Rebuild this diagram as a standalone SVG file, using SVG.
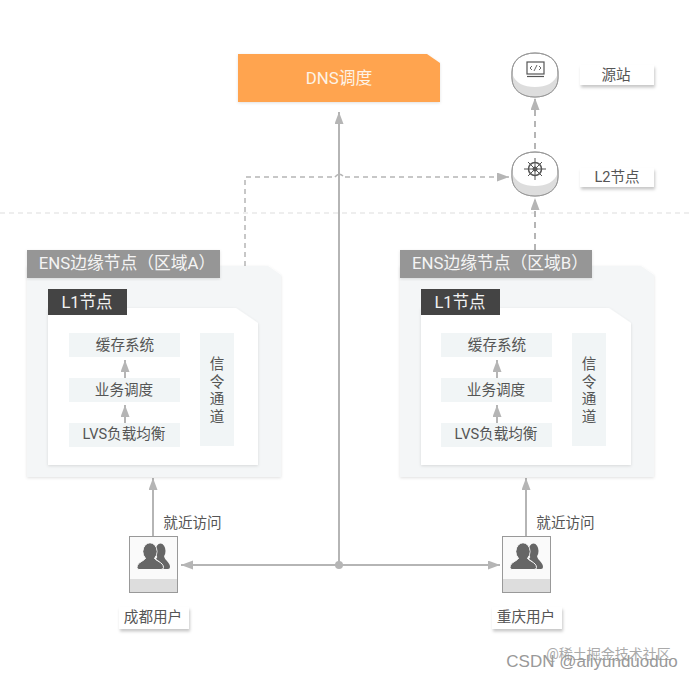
<svg xmlns="http://www.w3.org/2000/svg" width="692" height="680" viewBox="0 0 692 680">
<defs>
<filter id="sh" x="-20%" y="-30%" width="140%" height="170%"><feDropShadow dx="1" dy="2.500" stdDeviation="1.500" flood-color="#000" flood-opacity="0.22"/></filter>
<filter id="sh2" x="-10%" y="-10%" width="120%" height="120%"><feDropShadow dx="0" dy="1" stdDeviation="1.500" flood-color="#000" flood-opacity="0.12"/></filter>
<marker id="ah" markerUnits="userSpaceOnUse" markerWidth="13" markerHeight="10" refX="12" refY="4.500" orient="auto"><path d="M0 0L12 4.500L0 9Z" fill="#b5b5b5"/></marker>
<marker id="ahs" markerUnits="userSpaceOnUse" markerWidth="13" markerHeight="10" refX="12" refY="4.500" orient="auto"><path d="M0 0L12 4.500L0 9Z" fill="#b5b5b5"/></marker>
<g id="users">
<ellipse cx="23.500" cy="8" rx="5" ry="7.500" fill="#666"/>
<path d="M21 13H27C28 18 33 19 33 24Q33 26 31 26H25C25 20 22 18 19 16Z" fill="#666"/>
<ellipse cx="13" cy="8.500" rx="7" ry="8.500" fill="#666" stroke="#fafafa" stroke-width="1"/>
<path d="M0 24.500C0 19 8 18 9.500 14H16.500C18 18 26.500 19 26.500 24.500Q26.500 26.500 24 26.500H2Q0 26.500 0 24.500Z" fill="#666" stroke="#fafafa" stroke-width="1"/>
<ellipse cx="13" cy="8.500" rx="6.500" ry="8" fill="#666"/>
</g>
</defs>
<style>
text{font-family:Roboto,"Noto Sans CJK SC",sans-serif;text-anchor:middle;fill:#555;font-size:14.600px}
.w{fill:#fff}
.hd{font-size:16.800px;fill:#f4f4f4}
.hl{font-size:16.500px;fill:#f2f2f2}
.it{fill:#f1f5f6}
.lb{fill:#fff;filter:url(#sh)}
.ln{stroke:#b5b5b5;stroke-width:2;fill:none}
.ds{stroke:#b5b5b5;stroke-width:2;stroke-dasharray:6 5;fill:none}
.dt{stroke:#b5b5b5;stroke-width:1.500;stroke-dasharray:5 4;fill:none}
.cyl{fill:#fff;stroke:#999;stroke-width:1}
</style>
<path d="M0 213H692" stroke="#ddd" stroke-width="1" stroke-dasharray="5 4" fill="none"/>

<g id="connectors">
<path class="ln" d="M339 565V112" marker-end="url(#ah)"/>
<path class="dt" d="M245 266V177H335"/>
<path d="M335 177Q339 172 343 176" stroke="#b5b5b5" stroke-width="1.500" fill="none"/>
<path class="dt" d="M345 177H509" marker-end="url(#ah)"/>
<path class="ds" d="M535 250V198" marker-end="url(#ah)"/>
<path class="ds" d="M535 149V98" marker-end="url(#ah)"/>
<path class="ln" d="M153 536V478" marker-end="url(#ah)"/>
<path class="ln" d="M526 536V478" marker-end="url(#ah)"/>
<path class="ln" d="M339 565H181" marker-end="url(#ah)"/>
<path class="ln" d="M339 565H500" marker-end="url(#ah)"/>
<circle cx="339" cy="565" r="4" fill="#b5b5b5"/>
</g>

<g id="dns">
<path d="M238 54H427L440 63V102H238Z" fill="#ffa44f" filter="url(#sh2)"/>
<text x="339" y="84" style="fill:#fdf3e6;font-size:16.800px">DNS调度</text>
</g>

<g id="origin">
<path class="cyl" d="M512 72C512 60 522 53 535 53S558 60 558 72V78C558 90 548 97 535 97S512 90 512 78Z"/>
<path d="M512.500 74C515 83 524 87 535 87S555 83 557.500 74V78C557.500 90 548 96.500 535 96.500S512.500 90 512.500 78Z" fill="#ddd"/>
<path class="cyl" style="fill:none" d="M512 72C512 60 522 53 535 53S558 60 558 72V78C558 90 548 97 535 97S512 90 512 78Z"/>
<rect x="527" y="62" width="17" height="12" fill="none" stroke="#555" stroke-width="1.200"/>
<path d="M527 76.500H544" stroke="#555" stroke-width="1.200"/>
<path d="M532 66L530 68L532 70M539 66L541 68L539 70M537 65L534 71" stroke="#555" stroke-width="0.900" fill="none"/>
<rect class="lb" x="580" y="65" width="74" height="20"/>
<text x="616" y="80">源站</text>
</g>

<g id="l2">
<path class="cyl" d="M512 171C512 159 522 152 535 152S558 159 558 171V177C558 189 548 196 535 196S512 189 512 177Z"/>
<path d="M512.500 173C515 182 524 186 535 186S555 182 557.500 173V177C557.500 189 548 195.500 535 195.500S512.500 189 512.500 177Z" fill="#ddd"/>
<path class="cyl" style="fill:none" d="M512 171C512 159 522 152 535 152S558 159 558 171V177C558 189 548 196 535 196S512 189 512 177Z"/>
<circle cx="535" cy="169" r="6.500" fill="none" stroke="#555" stroke-width="1.500"/>
<circle cx="535" cy="169" r="2.500" fill="#555"/>
<path d="M524 169H546M535 158V180M528 162L542 176M542 162L528 176" stroke="#555" stroke-width="1"/>
<rect class="lb" x="580" y="168" width="74" height="19"/>
<text x="617" y="182">L2节点</text>
</g>

<g id="regionA">
<path d="M27 266H268L281 275V477H27Z" fill="#f4f6f7" filter="url(#sh2)"/>
<rect x="27" y="250" width="193" height="28" fill="#969696" filter="url(#sh2)"/>
<text class="hd" x="127" y="269">ENS边缘节点（区域A）</text>
<path d="M48 308H236L258 323V465H48Z" class="w" filter="url(#sh2)"/>
<rect x="48" y="289" width="79" height="26" fill="#444"/>
<text class="hl" x="87" y="308">L1节点</text>
<rect class="it" x="69" y="333" width="111" height="24"/>
<rect class="it" x="69" y="378" width="111" height="24"/>
<rect class="it" x="69" y="423" width="111" height="24"/>
<rect class="it" x="200" y="333" width="34" height="113"/>
<text x="125" y="350">缓存系统</text>
<text x="124" y="395">业务调度</text>
<text x="124" y="439">LVS负载均衡</text>
<text x="217" y="369">信</text>
<text x="217" y="387">令</text>
<text x="217" y="404">通</text>
<text x="217" y="422">道</text>
<path class="ln" d="M125 378V360" marker-end="url(#ahs)"/>
<path class="ln" d="M125 423V405" marker-end="url(#ahs)"/>
</g>

<g id="regionB">
<path d="M400 266H641L654 275V477H400Z" fill="#f4f6f7" filter="url(#sh2)"/>
<rect x="400" y="250" width="192" height="28" fill="#969696" filter="url(#sh2)"/>
<text class="hd" x="500" y="269">ENS边缘节点（区域B）</text>
<path d="M421 308H609L631 323V465H421Z" class="w" filter="url(#sh2)"/>
<rect x="421" y="289" width="79" height="26" fill="#444"/>
<text class="hl" x="460" y="308">L1节点</text>
<rect class="it" x="441" y="333" width="111" height="24"/>
<rect class="it" x="441" y="378" width="111" height="24"/>
<rect class="it" x="441" y="423" width="111" height="24"/>
<rect class="it" x="572" y="333" width="34" height="113"/>
<text x="497" y="350">缓存系统</text>
<text x="496" y="395">业务调度</text>
<text x="496" y="439">LVS负载均衡</text>
<text x="589" y="369">信</text>
<text x="589" y="387">令</text>
<text x="589" y="404">通</text>
<text x="589" y="422">道</text>
<path class="ln" d="M497 378V360" marker-end="url(#ahs)"/>
<path class="ln" d="M497 423V405" marker-end="url(#ahs)"/>
</g>

<g id="userA">
<rect x="129.500" y="536.500" width="48" height="56" fill="#fafafa" stroke="#999"/>
<rect x="130" y="579" width="47" height="13" fill="#ddd"/>
<use href="#users" x="137" y="543"/>
<text x="192.500" y="528">就近访问</text>
<rect class="lb" x="119" y="607" width="70" height="22"/>
<text x="153" y="622">成都用户</text>
</g>

<g id="userB">
<rect x="502.500" y="536.500" width="48" height="56" fill="#fafafa" stroke="#999"/>
<rect x="503" y="579" width="47" height="13" fill="#ddd"/>
<use href="#users" x="510" y="543"/>
<text x="565.500" y="528">就近访问</text>
<rect class="lb" x="492" y="607" width="70" height="22"/>
<text x="526" y="622">重庆用户</text>
</g>

<text x="608.500" y="659" style="fill:#aaa;font-size:14px">@稀土掘金技术社区</text>
<text x="592" y="667" style="fill:#999;font-size:17px;font-family:'Liberation Sans',sans-serif">CSDN @aliyunduoduo</text>
</svg>
